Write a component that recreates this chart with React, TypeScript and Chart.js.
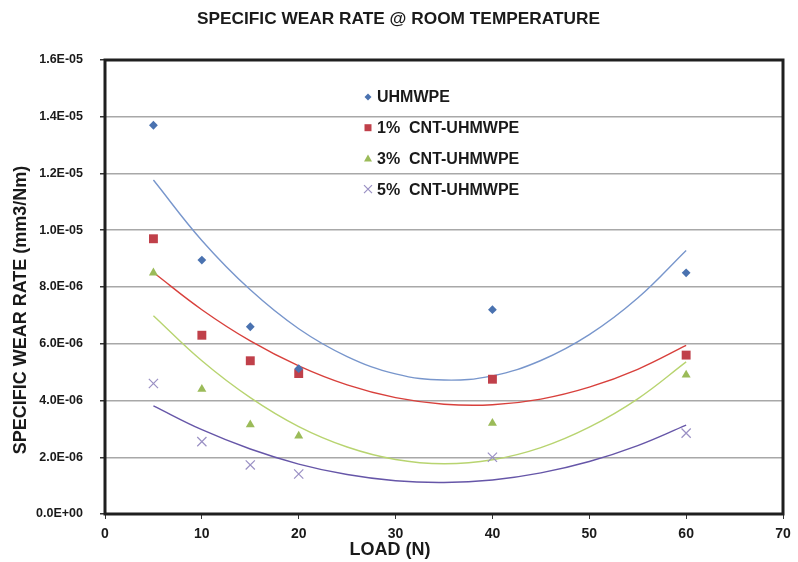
import React, { useEffect, useRef } from "react";
import { Chart, registerables } from "chart.js";

Chart.register(...registerables);

const TITLE = "SPECIFIC WEAR RATE @ ROOM TEMPERATURE";
const X_TITLE = "LOAD (N)";
const Y_TITLE = "SPECIFIC WEAR RATE (mm3/Nm)";

const seriesNames = ["UHMWPE", "1%  CNT-UHMWPE", "3%  CNT-UHMWPE", "5%  CNT-UHMWPE"];

const loads = [5, 10, 15, 20, 40, 60];
const uhmwpe = [1.37e-5, 8.95e-6, 6.6e-6, 5.12e-6, 7.2e-6, 8.5e-6];
const cnt1 = [9.7e-6, 6.3e-6, 5.4e-6, 4.95e-6, 4.75e-6, 5.6e-6];
const cnt3 = [8.5e-6, 4.4e-6, 3.15e-6, 2.75e-6, 3.2e-6, 4.9e-6];
const cnt5 = [4.6e-6, 2.55e-6, 1.73e-6, 1.41e-6, 2.0e-6, 2.85e-6];

// trendline values
const trendLoads = [5, 10, 15, 20, 25, 30, 35, 40, 45, 50, 55, 60];
const trendUhmwpe = [11.77e-6, 9.64e-6, 7.9e-6, 6.53e-6, 5.55e-6, 4.94e-6, 4.72e-6, 4.87e-6, 5.41e-6, 6.32e-6, 7.61e-6, 9.29e-6];
const trendCnt1 = [8.51e-6, 7.2e-6, 6.1e-6, 5.22e-6, 4.55e-6, 4.1e-6, 3.87e-6, 3.85e-6, 4.05e-6, 4.47e-6, 5.1e-6, 5.94e-6];
const trendCnt3 = [6.99e-6, 5.4e-6, 4.1e-6, 3.08e-6, 2.36e-6, 1.92e-6, 1.77e-6, 1.91e-6, 2.34e-6, 3.06e-6, 4.06e-6, 5.36e-6];
const trendCnt5 = [3.81e-6, 2.97e-6, 2.29e-6, 1.76e-6, 1.39e-6, 1.17e-6, 1.11e-6, 1.2e-6, 1.45e-6, 1.85e-6, 2.41e-6, 3.13e-6];

const xTicksMin = 0;
const xTicksMax = 70;
const xStep = 10;
const yMin = 0;
const yMax = 1.6e-5;
const yStep = 2e-6;

const markerColors = ["#4a72b0", "#c0404a", "#9bbb59", "#9a90c4"];
const lineColors = ["#7896cc", "#d8403c", "#b8d470", "#6656a8"];
const markerStyles = ["rectRot", "rect", "triangle", "crossRot"];
const markerRadii = [4.4, 6.3, 5.2, 6.5];

const FONT = '"Liberation Sans", Arial, sans-serif';
const TEXT = "#1a1a1a";

const fmtSci = (v: number) => {
  if (Math.abs(v) < 1e-20) return "0.0E+00";
  const s = v.toExponential(1);
  const [m, e] = s.split("e");
  const sign = e[0] === "-" ? "-" : "+";
  const d = e.replace(/^[+-]/, "").padStart(2, "0");
  return `${m}E${sign}${d}`;
};

const pts = (xs: number[], ys: number[]) => xs.map((x, i) => ({ x, y: ys[i] }));

function drawMarker(ctx: CanvasRenderingContext2D, style: string, x: number, y: number, color: string) {
  ctx.save();
  ctx.fillStyle = color;
  ctx.strokeStyle = color;
  ctx.beginPath();
  if (style === "rectRot") {
    ctx.moveTo(x, y - 3.5);
    ctx.lineTo(x + 3.5, y);
    ctx.lineTo(x, y + 3.5);
    ctx.lineTo(x - 3.5, y);
    ctx.closePath();
    ctx.fill();
  } else if (style === "rect") {
    ctx.rect(x - 3.5, y - 3.5, 7, 7);
    ctx.fill();
  } else if (style === "triangle") {
    ctx.moveTo(x, y - 4);
    ctx.lineTo(x + 4, y + 3);
    ctx.lineTo(x - 4, y + 3);
    ctx.closePath();
    ctx.fill();
  } else {
    ctx.lineWidth = 1.2;
    ctx.moveTo(x - 4, y - 4);
    ctx.lineTo(x + 4, y + 4);
    ctx.moveTo(x + 4, y - 4);
    ctx.lineTo(x - 4, y + 4);
    ctx.stroke();
  }
  ctx.restore();
}

const overlayPlugin = {
  id: "overlay",
  afterDraw(chart: any) {
    const { ctx, chartArea: a } = chart;
    ctx.save();
    ctx.strokeStyle = "#1f1f1f";
    ctx.lineWidth = 3;
    ctx.strokeRect(a.left, a.top, a.right - a.left, a.bottom - a.top);

    ctx.fillStyle = TEXT;
    ctx.textAlign = "center";
    ctx.textBaseline = "middle";
    ctx.font = `bold 18px ${FONT}`;
    ctx.fillText(X_TITLE, 390, 550);

    ctx.save();
    ctx.translate(21, 310);
    ctx.rotate(-Math.PI / 2);
    ctx.fillText(Y_TITLE, 0, 0);
    ctx.restore();

    ctx.font = `bold 16px ${FONT}`;
    ctx.textAlign = "left";
    seriesNames.forEach((name, i) => {
      const y = 97 + i * 30.7;
      drawMarker(ctx, markerStyles[i], 368, y, markerColors[i]);
      ctx.fillStyle = TEXT;
      ctx.fillText(name, 377, y + 1);
    });
    ctx.restore();
  },
};

export default function App() {
  const ref = useRef<HTMLCanvasElement | null>(null);

  useEffect(() => {
    if (!ref.current) return;
    const seriesData = [uhmwpe, cnt1, cnt3, cnt5];
    const trendData = [trendUhmwpe, trendCnt1, trendCnt3, trendCnt5];

    const markerSets = seriesData.map((ys, i) => ({
      label: seriesNames[i],
      data: pts(loads, ys),
      showLine: false,
      pointStyle: markerStyles[i] as any,
      pointRadius: markerRadii[i],
      pointBackgroundColor: markerColors[i],
      pointBorderColor: markerColors[i],
      pointBorderWidth: i === 3 ? 1.2 : 0,
      order: 0,
    }));
    const trendSets = trendData.map((ys, i) => ({
      label: seriesNames[i] + " trend",
      data: pts(trendLoads, ys),
      showLine: true,
      borderColor: lineColors[i],
      borderWidth: 1.4,
      pointRadius: 0,
      tension: 0.4,
      fill: false,
      order: 1,
    }));

    const chart = new Chart(ref.current, {
      type: "scatter",
      data: { datasets: [...markerSets, ...trendSets] as any },
      options: {
        animation: false,
        responsive: false,
        layout: { padding: { right: 15, left: 14 } },
        plugins: {
          legend: { display: false },
          tooltip: { enabled: false },
          title: {
            display: true,
            text: TITLE,
            color: TEXT,
            font: { family: FONT, size: 17.3, weight: "bold", lineHeight: 1.2 },
            padding: { top: 9, bottom: 30.24 },
          },
        },
        scales: {
          x: {
            type: "linear",
            min: xTicksMin,
            max: xTicksMax,
            afterFit: (s: any) => {
              s.height = 48;
            },
            ticks: {
              stepSize: xStep,
              color: TEXT,
              padding: 7,
              font: { family: FONT, size: 14, weight: "bold" },
            },
            grid: { drawOnChartArea: false, drawTicks: true, tickLength: 5, tickColor: "#333" },
            border: { display: false },
          },
          y: {
            type: "linear",
            min: yMin,
            max: yMax,
            afterFit: (s: any) => {
              s.width = 91;
            },
            ticks: {
              stepSize: yStep,
              color: TEXT,
              padding: 17,
              font: { family: FONT, size: 12.5, weight: "bold" },
              callback: (v: any) => fmtSci(Number(v)),
            },
            grid: { color: "#a8a8a8", lineWidth: 1.5, tickLength: 5, tickColor: "#333" },
            border: { display: false },
          },
        },
      },
      plugins: [overlayPlugin],
    });
    return () => chart.destroy();
  }, []);

  return (
    <div style={{ position: "fixed", left: 0, top: 0, width: "798px", height: "562px", background: "#fff" }}>
      <canvas ref={ref} width={798} height={562} />
    </div>
  );
}
